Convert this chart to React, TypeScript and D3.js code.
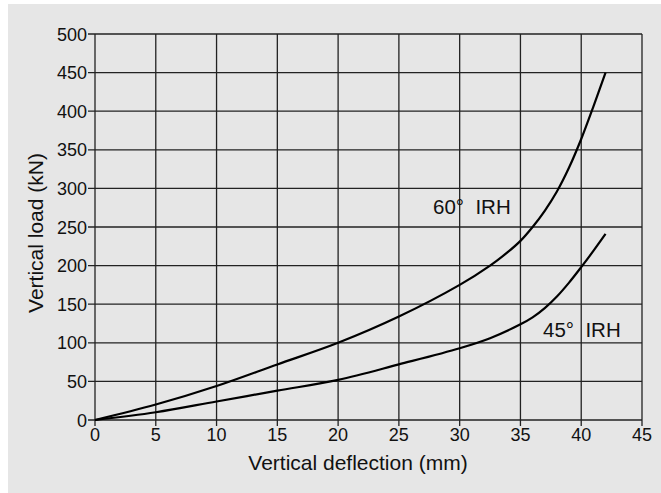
import React from "react";
import * as d3 from "d3";

const xTicks = [0, 5, 10, 15, 20, 25, 30, 35, 40, 45];
const yTicks = [0, 50, 100, 150, 200, 250, 300, 350, 400, 450, 500];

const deflection60 = [0, 5, 10, 15, 20, 25, 30, 32.5, 34, 35, 36, 37, 38, 39, 40, 41, 42];
const load60 = [0, 20, 44, 72, 100, 134, 175, 200, 218, 232, 250, 271, 296, 327, 364, 406, 450];

const deflection45 = [0, 5, 10, 15, 20, 25, 30, 32.5, 35, 36, 37, 38, 39, 40, 41, 42];
const load45 = [0, 10, 24, 38, 52, 72, 93, 106, 124, 133, 145, 160, 178, 198, 219, 241];

const seriesLabels = ["60°  IRH", "45°  IRH"];

const W = 661;
const H = 493;
const left = 95;
const right = 642;
const top = 34;
const bottom = 420;
const FONT = "'Liberation Sans', Arial, sans-serif";

export default function App() {
  const x = d3.scaleLinear().domain([0, 45]).range([left, right]);
  const y = d3.scaleLinear().domain([0, 500]).range([bottom, top]);
  const line = d3
    .line<[number, number]>()
    .x((d) => x(d[0]))
    .y((d) => y(d[1]))
    .curve(d3.curveCatmullRom.alpha(0.5));
  const pts60 = deflection60.map((d, i) => [d, load60[i]] as [number, number]);
  const pts45 = deflection45.map((d, i) => [d, load45[i]] as [number, number]);

  return (
    <svg
      width={W}
      height={H}
      style={{ position: "absolute", left: 0, top: 0 }}
      fontFamily={FONT}
    >
      <rect x={8} y={4} width={W - 8} height={H - 4} fill="#e6e6e6" />
      {xTicks.map((t) => (
        <line key={"gx" + t} x1={x(t)} x2={x(t)} y1={top} y2={bottom + 6} stroke="#222" strokeWidth={1.3} />
      ))}
      {yTicks.map((t) => (
        <line key={"gy" + t} x1={left - 7} x2={right} y1={y(t)} y2={y(t)} stroke="#222" strokeWidth={1.3} />
      ))}
      {xTicks.map((t) => (
        <text key={"tx" + t} x={x(t)} y={bottom + 21} textAnchor="middle" fontSize={18} fill="#111">
          {t}
        </text>
      ))}
      {yTicks.map((t) => (
        <text key={"ty" + t} x={left - 8} y={y(t) + 6.5} textAnchor="end" fontSize={18} fill="#111">
          {t}
        </text>
      ))}
      <path d={line(pts60) || ""} fill="none" stroke="#000" strokeWidth={2.2} />
      <path d={line(pts45) || ""} fill="none" stroke="#000" strokeWidth={2.2} />
      <text x={433} y={214} fontSize={20.5} fill="#111" style={{ whiteSpace: "pre" }}>{seriesLabels[0]}</text>
      <text x={543} y={337} fontSize={20.5} fill="#111" style={{ whiteSpace: "pre" }}>{seriesLabels[1]}</text>
      <text x={358} y={470} textAnchor="middle" fontSize={21} fill="#111">
        Vertical deflection (mm)
      </text>
      <text
        transform={`translate(43,${(top + bottom) / 2 + 6}) rotate(-90)`}
        textAnchor="middle"
        fontSize={21}
        fill="#111"
      >
        Vertical load (kN)
      </text>
    </svg>
  );
}
